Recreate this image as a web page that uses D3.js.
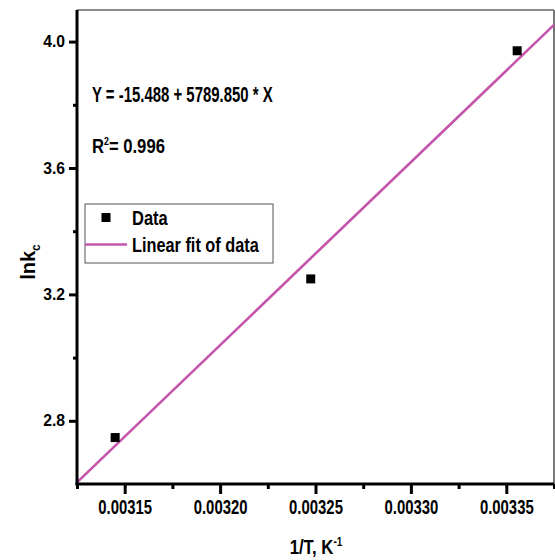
<!DOCTYPE html>
<html>
<head>
<meta charset="utf-8">
<script src="https://cdn.jsdelivr.net/npm/d3@7"></script>
<style>
  body { margin: 0; background: #fff; }
  svg text { font-family: "Liberation Sans Narrow", "Arial Narrow", "Liberation Sans", Arial, sans-serif; font-weight: bold; fill: #000; }
</style>
</head>
<body>
<div class="app"></div>
<script>
'use strict'

// data
var invT = [0.003145, 0.0032475, 0.0033557];
var lnKc = [2.747, 3.249, 3.971];

// linear fit printed on the chart
var fitIntercept = -15.488;
var fitSlope = 5789.850;
var fitR2 = 0.996;

var xTicks = [0.00315, 0.00320, 0.00325, 0.00330, 0.00335];
var xMinorTicks = [0.003125, 0.003175, 0.003225, 0.003275, 0.003325, 0.003375];
var yTicks = [2.8, 3.2, 3.6, 4.0];
var yMinorTicks = [3.0, 3.4, 3.8];

var seriesNames = ["Data", "Linear fit of data"];

var fitColor = "#c455ab";

// area
var margin = { top: 10, right: 1, bottom: 76, left: 77 };
var width = 555 - margin.left - margin.right;
var height = 560 - margin.top - margin.bottom;

var x = d3.scaleLinear().domain([0.003125, 0.003375]).range([0, width]);
var y = d3.scaleLinear().domain([2.6, 4.1]).range([height, 0]);

var svg = d3.select(".app").append("svg")
  .attr("width", 555)
  .attr("height", 560);

// squeeze text horizontally to a given width (the original font is condensed)
function squeeze(sel, w) {
  sel.each(function() {
    var bw = this.getBBox().width;
    if (bw > 0) {
      var ax = +this.getAttribute("x") || 0;
      var s = w / bw;
      d3.select(this).attr("transform",
        "translate(" + ax + ",0) scale(" + s + ",1) translate(" + (-ax) + ",0)");
    }
  });
}

var g = svg.append("g")
  .attr("transform", "translate(" + margin.left + "," + margin.top + ")");

// frame top/right
g.append("line")
  .attr("x1", 0).attr("x2", width).attr("y1", 0).attr("y2", 0)
  .attr("stroke", "#666").attr("stroke-width", 1.5);
g.append("line")
  .attr("x1", width).attr("x2", width).attr("y1", 0).attr("y2", height)
  .attr("stroke", "#777").attr("stroke-width", 2);

// fit line
var fitPts = x.domain().map(function(v) { return { x: v, y: fitIntercept + fitSlope * v }; });
var line = d3.line()
  .x(function(d) { return x(d.x); })
  .y(function(d) { return y(d.y); });

g.append("path")
  .attr("d", line(fitPts))
  .attr("fill", "none")
  .attr("stroke", fitColor)
  .attr("stroke-width", 2.6);

// points
var pts = invT.map(function(v, i) { return { x: v, y: lnKc[i] }; });
g.selectAll(".pt").data(pts).enter().append("rect")
  .attr("class", "pt")
  .attr("x", function(d) { return x(d.x) - 4.5; })
  .attr("y", function(d) { return y(d.y) - 4.5; })
  .attr("width", 9)
  .attr("height", 9)
  .attr("fill", "#000");

// axes
var xAxis = d3.axisBottom(x).tickValues(xTicks).tickSize(10).tickPadding(6)
  .tickFormat(d3.format(".5f"));
var xAxisMinor = d3.axisBottom(x).tickValues(xMinorTicks).tickSize(5).tickFormat("");
var yAxis = d3.axisLeft(y).tickValues(yTicks).tickSize(8).tickPadding(4)
  .tickFormat(d3.format(".1f"));
var yAxisMinor = d3.axisLeft(y).tickValues(yMinorTicks).tickSize(4).tickFormat("");

function styleAxis(sel) {
  sel.select(".domain").remove();
  sel.selectAll(".tick line").attr("stroke", "#000").attr("stroke-width", 3);
  sel.selectAll(".tick text").attr("fill", "#000");
}

g.append("g").attr("transform", "translate(0," + height + ")").call(xAxisMinor).call(styleAxis);
var gx = g.append("g").attr("transform", "translate(0," + height + ")").call(xAxis).call(styleAxis);
gx.selectAll(".tick text").style("font-size", "19.5px").call(squeeze, 54);
g.append("g").call(yAxisMinor).call(styleAxis);
var gy = g.append("g").call(yAxis).call(styleAxis);
gy.selectAll(".tick text").style("font-size", "16px").call(squeeze, 22);

// axis lines
g.append("line")
  .attr("x1", 0).attr("x2", 0).attr("y1", 0).attr("y2", height + 1.5)
  .attr("stroke", "#000").attr("stroke-width", 3);
g.append("line")
  .attr("x1", -1.5).attr("x2", width).attr("y1", height).attr("y2", height)
  .attr("stroke", "#000").attr("stroke-width", 3);

// axis titles
var xTitle = svg.append("text")
  .attr("x", 316)
  .attr("y", 554)
  .attr("text-anchor", "middle")
  .style("font-size", "20px");
xTitle.append("tspan").text("1/T, K");
xTitle.append("tspan").attr("dy", -8).style("font-size", "12px").text("-1");
xTitle.call(squeeze, 53);

var yTitle = svg.append("text")
  .attr("transform", "translate(35,262) rotate(-90)")
  .attr("text-anchor", "middle")
  .style("font-size", "20px");
yTitle.append("tspan").text("lnk");
yTitle.append("tspan").attr("dy", 5).style("font-size", "12px").text("c");

// equation
svg.append("text")
  .attr("x", 92).attr("y", 102)
  .style("font-size", "22px")
  .text("Y = " + fitIntercept.toFixed(3) + " + " + fitSlope.toFixed(3) + " * X")
  .call(squeeze, 181);

var r2 = svg.append("text")
  .attr("x", 92).attr("y", 153)
  .style("font-size", "21px");
r2.append("tspan").text("R");
r2.append("tspan").attr("dy", -8).style("font-size", "11px").text("2");
r2.append("tspan").attr("dy", 8).text("= " + fitR2.toFixed(3));
r2.call(squeeze, 73);

// legend
var legend = svg.append("g").attr("transform", "translate(85,204)");
legend.append("rect")
  .attr("width", 188).attr("height", 59)
  .attr("fill", "#fff").attr("stroke", "#555").attr("stroke-width", 1);
legend.append("rect")
  .attr("x", 16.5).attr("y", 9).attr("width", 9).attr("height", 9).attr("fill", "#000");
legend.append("line")
  .attr("x1", 0).attr("x2", 42).attr("y1", 40.5).attr("y2", 40.5)
  .attr("stroke", fitColor).attr("stroke-width", 2.6);
var legendWidths = [36, 127];
legend.selectAll(".lt").data(seriesNames).enter().append("text")
  .attr("class", "lt")
  .attr("x", 47)
  .attr("y", function(d, i) { return 21 + i * 27; })
  .style("font-size", "21px")
  .text(function(d) { return d; })
  .each(function(d, i) { d3.select(this).call(squeeze, legendWidths[i]); });
</script>
</body>
</html>
